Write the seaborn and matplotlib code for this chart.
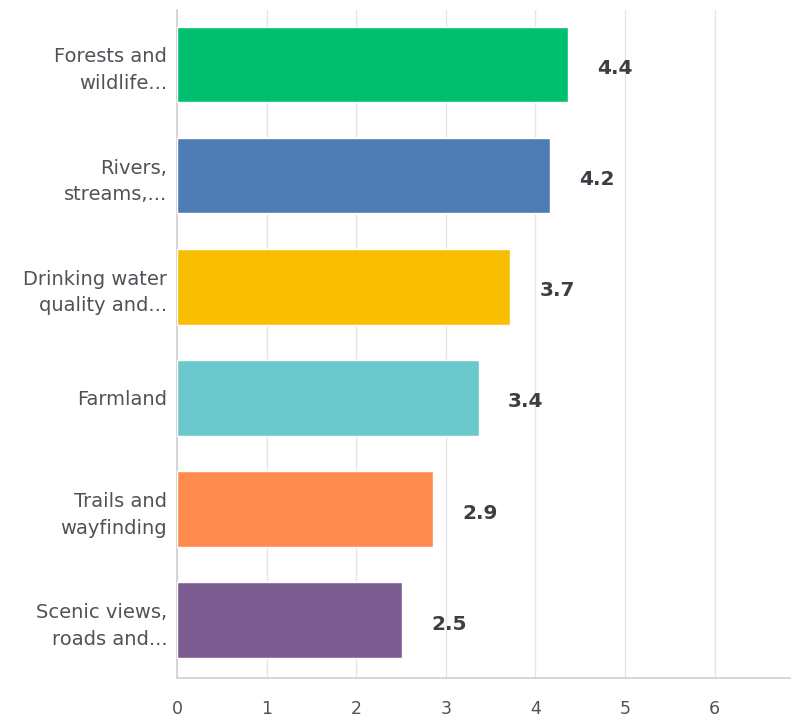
import matplotlib
matplotlib.use("Agg")
import matplotlib.pyplot as plt
import seaborn as sns
import pandas as pd

categories = [
    "Forests and\nwildlife...",
    "Rivers,\nstreams,...",
    "Drinking water\nquality and...",
    "Farmland",
    "Trails and\nwayfinding",
    "Scenic views,\nroads and...",
]
scores = [4.36, 4.16, 3.72, 3.37, 2.86, 2.51]
bar_colors = ["#00BF6F", "#507CB6", "#F9BE00", "#6BC8CD", "#FF8B4F", "#7D5C91"]
x_ticks = [0, 1, 2, 3, 4, 5, 6]

df = pd.DataFrame({"category": categories, "score": scores})

sns.set_theme(style="white")
plt.rcParams["font.family"] = ["DejaVu Sans"]

fig = plt.figure(figsize=(7.91, 7.21), dpi=100)
ax = fig.add_axes([177 / 791, 1 - 678 / 721, (791 - 177) / 791, (678 - 10) / 721])

sns.barplot(data=df, x="score", y="category", hue="category",
            palette=bar_colors, legend=False, width=0.68,
            saturation=1, ax=ax, zorder=3)

label_color = "#4F5358"
value_color = "#3A3F45"
for i, v in enumerate(scores):
    ax.annotate(f"{round(v + 1e-9, 1):.1f}", xy=(v, i), xytext=(29, -4),
                textcoords="offset pixels",
                ha="left", va="center", fontsize=14.5, fontweight="bold",
                color=value_color)

ax.set_xlim(0, 614 / 89.6)
ax.set_ylim(5.52, -0.49)
ax.set_xticks(x_ticks)
ax.set_xticklabels([str(t) for t in x_ticks])
ax.set_yticks(range(len(categories)))
ax.set_yticklabels(categories, linespacing=1.5)
ax.xaxis.grid(True, color="#E6E6E6", linewidth=1, zorder=0)
ax.yaxis.grid(False)
ax.set_xlabel("")
ax.set_ylabel("")
ax.tick_params(axis="x", length=0, pad=16, labelsize=12.5, labelcolor=label_color)
ax.tick_params(axis="y", length=0, pad=7, labelsize=14, labelcolor=label_color)

for side in ("top", "right"):
    ax.spines[side].set_visible(False)
for side in ("left", "bottom"):
    ax.spines[side].set_color("#D0D0D0")
    ax.spines[side].set_linewidth(1.2)

fig.savefig("out.png", dpi=100, facecolor="white")
